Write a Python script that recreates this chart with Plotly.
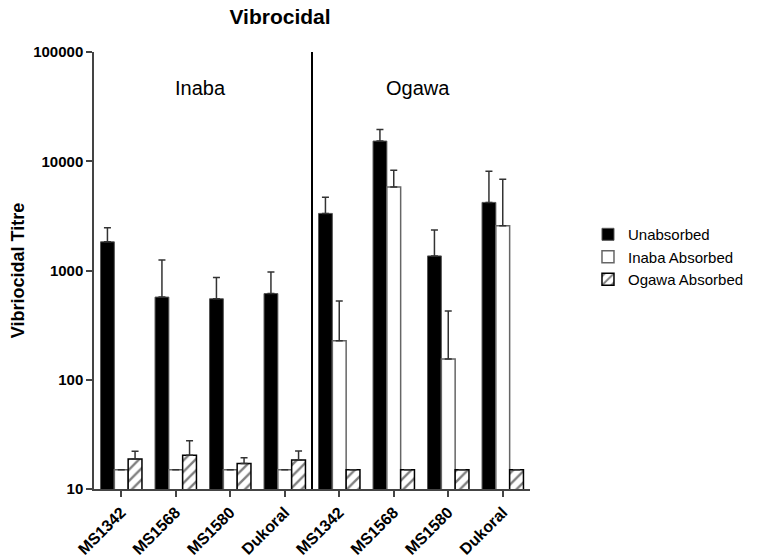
import plotly.graph_objects as go

# ---- data ----
categories = ["MS1342", "MS1568", "MS1580", "Dukoral",
              "MS1342", "MS1568", "MS1580", "Dukoral"]
groups = ["Inaba", "Ogawa"]

unabsorbed = [1830, 571, 551, 615, 3330, 15300, 1360, 4200]
unabsorbed_err_top = [2460, 1250, 862, 971, 4690, 19500, 2350, 8100]

inaba_abs = [15, 15, 15, 15, 227, 5820, 155, 2570]
inaba_abs_err_top = [15, 15, 15, 15, 527, 8260, 427, 6840]

ogawa_abs = [18.8, 20.4, 17.1, 18.4, 15, 15, 15, 15]
ogawa_abs_err_top = [22.2, 27.6, 19.3, 22.3, 15, 15, 15, 15]

y_ticks = [10, 100, 1000, 10000, 100000]

x = list(range(len(categories)))
n_inaba = 4

def err(top, val):
    return [t - v for t, v in zip(top, val)]

font_family = "Arial, Liberation Sans, sans-serif"

fig = go.Figure()

fig.add_trace(go.Bar(
    x=x, y=unabsorbed, name="Unabsorbed",
    marker=dict(color="black", line=dict(color="#555555", width=1)),
    error_y=dict(type="data", symmetric=False, array=err(unabsorbed_err_top, unabsorbed),
                 arrayminus=[0] * len(x), color="#333333", thickness=1.5, width=3.5),
))
fig.add_trace(go.Bar(
    x=x, y=inaba_abs, name="Inaba Absorbed",
    marker=dict(color="white", line=dict(color="#666666", width=1.5)),
    error_y=dict(type="data", symmetric=False, array=err(inaba_abs_err_top, inaba_abs),
                 arrayminus=[0] * len(x), color="#333333", thickness=1.5, width=3.5),
))
fig.add_trace(go.Bar(
    x=x, y=ogawa_abs, name="Ogawa Absorbed",
    marker=dict(color="white", line=dict(color="black", width=1.5),
                pattern=dict(shape="/", fgcolor="black", bgcolor="white", size=8, solidity=0.3)),
    error_y=dict(type="data", symmetric=False, array=err(ogawa_abs_err_top, ogawa_abs),
                 arrayminus=[0] * len(x), color="#333333", thickness=1.5, width=3.5),
))

fig.add_shape(type="line", xref="x", yref="paper",
              x0=n_inaba - 0.5, x1=n_inaba - 0.5, y0=0, y1=1,
              line=dict(color="black", width=2))

fig.add_annotation(x=-0.5 + 1.95, y=0.917, xref="x", yref="paper", text=groups[0],
                   showarrow=False, yanchor="middle",
                   font=dict(size=20, color="black", family=font_family))
fig.add_annotation(x=n_inaba - 0.5 + 1.95, y=0.917, xref="x", yref="paper",
                   text=groups[1], showarrow=False, yanchor="middle",
                   font=dict(size=20, color="black", family=font_family))

fig.update_layout(
    width=767, height=559,
    margin=dict(l=94, r=237, t=52, b=70, autoexpand=False),
    paper_bgcolor="white", plot_bgcolor="white",
    font=dict(family=font_family, color="black"),
    barmode="group", bargap=0.24, bargroupgap=0,
    title=dict(text="<b>Vibrocidal</b>", x=280 / 767, xanchor="center",
               y=1 - 17 / 559, yanchor="middle", font=dict(size=21, color="black")),
    showlegend=True,
    legend=dict(x=1.133, y=0.62, xanchor="left", yanchor="top",
                font=dict(size=15, color="black"),
                itemwidth=30, bgcolor="rgba(0,0,0,0)"),
    xaxis=dict(range=[-0.5, len(x) - 0.5], tickvals=x, ticktext=[f"<b>{c}</b>" for c in categories],
               tickangle=-45, showline=True, linecolor="#444444", linewidth=1.5,
               ticks="outside", ticklen=6, tickcolor="#444444", tickwidth=1.5,
               tickfont=dict(size=16, color="black"), showgrid=False, zeroline=False,
               automargin=False),
    yaxis=dict(type="log", range=[1, 5], tickvals=y_ticks,
               ticktext=[f"<b>{v}</b>" for v in y_ticks],
               showline=True, linecolor="#444444", linewidth=1.5,
               ticks="outside", ticklen=6, tickcolor="#444444", tickwidth=1.5,
               tickfont=dict(size=15, color="black"), showgrid=False, zeroline=False,
               title=dict(text="<b>Vibriocidal Titre</b>", font=dict(size=18, color="black"),
                          standoff=4),
               automargin=False),
)

fig.write_html("out.html")
